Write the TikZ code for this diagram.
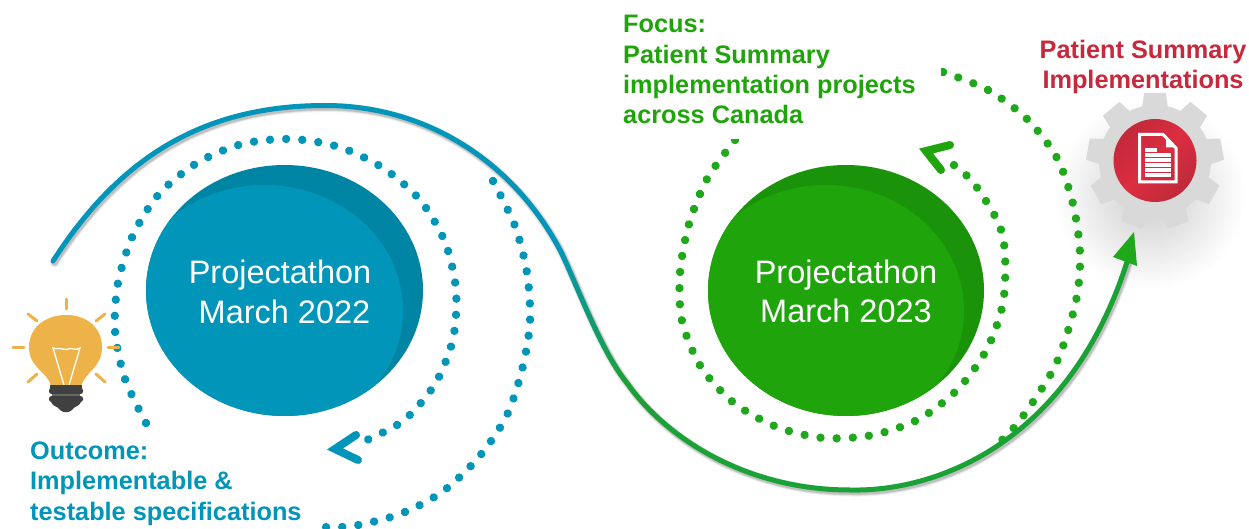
\documentclass[tikz,border=0pt]{standalone}
\usepackage{fontspec}
\setmainfont{Liberation Sans}
\usetikzlibrary{calc}
\definecolor{blueL}{HTML}{0095B9}
\definecolor{blueD}{HTML}{0084A3}
\definecolor{greenL}{HTML}{1FA50B}
\definecolor{greenD}{HTML}{1A930A}
\definecolor{greenC}{HTML}{1BA236}
\definecolor{greenDot}{HTML}{1FA81A}
\definecolor{redT}{HTML}{C8283C}
\definecolor{redA}{HTML}{C22A3A}
\definecolor{redB}{HTML}{BE2A3A}
\definecolor{redM}{HTML}{DC2D41}
\definecolor{bulb}{HTML}{EDB349}
\definecolor{gearG}{HTML}{D9D9D9}
\definecolor{baseD}{HTML}{404040}
\tikzset{
  dotline/.style={line width=8.4pt,line cap=round,dash pattern=on 0.01pt off 16.15pt},
  curveline/.style={line width=5pt,line cap=round,line join=round},
  chevron/.style={line width=8pt,line cap=round,line join=miter,miter limit=10},
  ray/.style={bulb,line width=3pt,line cap=round},
  title/.style={text=white,inner sep=0pt,anchor=base,font=\fontsize{32.5}{38}\selectfont},
  lab/.style={inner sep=0pt,align=left,anchor=north west,font=\fontsize{25.3}{30.4}\selectfont\bfseries},
  bar/.style={white,line width=3.4pt},
}
\begin{document}
\begin{tikzpicture}[x=1pt,y=-1pt]
\useasboundingbox (0,0) rectangle (1249,529);
\fill[white] (0,0) rectangle (1249,529);
% gear soft shadow
\shade[inner color=black!20,outer color=white] (1150,195) circle (95);
% curve shadow
\foreach \w/\o in {9/.06,7/.09,5.5/.12}{
\draw[black,opacity=\o,line width=\w pt,line cap=round,shift={(1.5,2)}] (53,261) .. controls (115,165) and (195,105.5) .. (325,105.5) .. controls (430,105.5) and (515,165) .. (560,250) .. controls (576,282) and (600,350) .. (627,383) .. controls (665,437) and (745,490) .. (850,490) .. controls (940,492) and (1070,440) .. (1127,262);
}
% ellipses
\node[inner sep=0pt] (c1) at (284.5,290.5) {};
\fill[blueD] (c1) ellipse [x radius=138.5,y radius=125.5];
\begin{scope}
\clip (c1) ellipse [x radius=138.5,y radius=125.5];
\fill[blueL] (264.5,310.5) ellipse [x radius=138.5,y radius=125.5];
\end{scope}
\node[inner sep=0pt] (c2) at (846,290.5) {};
\fill[greenD] (c2) ellipse [x radius=138,y radius=125.5];
\begin{scope}
\clip (c2) ellipse [x radius=138,y radius=125.5];
\fill[greenL] (826,310.5) ellipse [x radius=138,y radius=125.5];
\end{scope}
\node[title] (t1a) at (280,283) {Projectathon};
\node[title] (t1b) at (284.5,323) {March 2022};
\node[title] (t2a) at (846,283) {Projectathon};
\node[title] (t2b) at (846,322) {March 2023};
% dotted spirals
\draw[blueL,dotline] plot[smooth] coordinates {(146,423)(125,379)(115,331)(118,283)(133,235)(159,194)(197,163)(242,144)(291,139)(339,147)(383,168)(420,200)(445,242)(456,290)(453,339)(435,384)(403,421)(360,443)};
\draw[blueL,dotline] plot[smooth] coordinates {(493,181)(515,226)(527,273)(530,322)(522,370)(506,417)(478,458)(442,492)(400,514)(353,526)(321,527)};
\draw[greenDot,dotline] plot[smooth] coordinates {(735,140)(707,179)(689,224)(680,273)(682,321)(701,367)(734,403)(777,427)(824,438)(873,435)(919,419)(958,389)(987,349)(1003,303)(1005,254)(998,222)(972,181)(947,160)};
\draw[greenDot,dotline] plot[smooth] coordinates {(943,72)(988,90)(1027,119)(1057,158)(1073,204)(1080,253)(1076,301)(1056,364)(1021,419)(999,443)};
\fill[white] (728,122) rectangle (745,139);
\fill[white] (934,60) rectangle (941,85);
\fill[white] (313,518) rectangle (322,529);
% arrow chevrons
\draw[blueL,chevron] (356,435) -- (335,449) -- (358,460);
\draw[greenL,chevron] (950,145) -- (926,151) -- (941,170);
% main curve
\draw[blueL,curveline] (53,261) .. controls (115,165) and (195,105.5) .. (325,105.5) .. controls (430,105.5) and (515,165) .. (560,250);
\draw[greenC,curveline] (627,383) .. controls (665,437) and (745,490) .. (850,490) .. controls (940,492) and (1070,440) .. (1127,262);
\coordinate (cA) at (560,250);
\coordinate (cB) at (627,383);
\path (cA) .. controls (576,282) and (600,350) .. (cB)
  foreach \i in {0,...,24}{ coordinate[pos=\i/24] (g\i) };
\foreach \i [evaluate=\i as \j using int(\i+1), evaluate=\i as \m using int(100-100*\i/23)] in {0,...,23}{
  \draw[color=blueL!\m!greenC,line width=5pt,line cap=round] (g\i) -- (g\j);
}
% gear
\begin{scope}[shift={(1155,161)}]
\fill[gearG] (0,0) circle (56);
\foreach \a in {-90,-50,...,230}{
  \fill[gearG] (\a-14:54) -- (\a-9:69) -- (\a+9:69) -- (\a+14:54) -- cycle;
}
\end{scope}
\node[circle,inner sep=0pt,minimum size=83pt,shade,shading=axis,top color=redA,bottom color=redB,middle color=redM,shading angle=45] (gearc) at (1155,160.5) {};
% document icon
\draw[white,line width=3pt,line join=miter] (1163,134.5) -- (1139.5,134.5) -- (1139.5,182) -- (1176,182) -- (1176,148) -- cycle;
\fill[white] (1166,138) -- (1166,147.5) -- (1174,147.5) -- cycle;
\draw[bar] (1145,150) -- (1157,150);
\foreach \yy in {155,160,165,170,175}{ \draw[bar] (1145,\yy) -- (1171,\yy); }
% arrow head of curve
\coordinate (tip) at (1134,232);
\fill[greenDot] (tip) -- (1113,257) -- (1137,266) -- cycle;
% bulb
\node[inner sep=0pt] (bulbc) at (66,347) {};
\fill[bulb] (51,386) .. controls (48,372) and (29,368) .. (29,347) .. controls (29,328) and (45,315) .. (66,315) .. controls (87,315) and (102,328) .. (102,347) .. controls (102,368) and (85,372) .. (81,386) -- cycle;
\draw[white,line width=1.3pt] (64,385) -- (53,348) .. controls (58,350) and (60,347) .. (63,349) .. controls (67,351) and (70,347) .. (73,349) .. controls (76,350) and (78,349) .. (80,348) -- (69,385);
\foreach \p/\q in {{(66,299)}/{(66,309)},{(28,314)}/{(37,321)},{(105,314)}/{(96,321)},{(13,347)}/{(24,347)},{(108,347)}/{(119,347)},{(28,382)}/{(37,374)},{(105,382)}/{(96,374)}}{
  \draw[ray] \p -- \q;
}
\fill[baseD] (50,385) rectangle (82,389);
\fill[baseD,rounded corners=2.5pt] (49,388) rectangle (83,394);
\fill[baseD,rounded corners=2.5pt] (49,396) rectangle (83,402);
\fill[baseD] (51,402) .. controls (53,407) and (58,406) .. (60,410) .. controls (63,413) and (69,413) .. (72,410) .. controls (74,406) and (79,407) .. (81,402) -- cycle;
\fill[gray!80!black] (52,394) rectangle (80,396);
% labels
\node[lab,text=blueL] (outcome) at (30,441.5) {Outcome:\\Implementable \&\\testable specifications};
\node[lab,text=greenL] (focus) at (623,15) {Focus:\\Patient Summary\\implementation projects\\across Canada};
\node[lab,text=redT,align=center,anchor=north] (impl) at (1143,40) {Patient Summary\\Implementations};
\end{tikzpicture}
\end{document}
